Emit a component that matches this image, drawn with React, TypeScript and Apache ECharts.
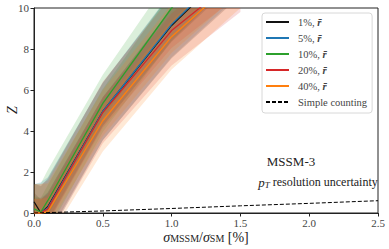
import React, { useEffect, useRef } from "react";
import * as echarts from "echarts";

const xs = [0, 0.05, 0.1, 0.5, 1.0, 1.5];
const z1 = [0.55, 0.0, 0.3, 4.95, 9.15, 12.4];
const z5 = [0.0, 0.0, 0.25, 4.95, 9.2, 12.5];
const z10 = [0.2, 0.05, 0.6, 5.35, 10.0, 13.5];
const z20 = [0.0, 0.0, 0.2, 4.9, 8.9, 11.6];
const z40 = [0.0, 0.0, 0.05, 4.5, 8.6, 11.6];

const s1 = [0.45, 0.65, 0.7, 0.7, 0.8, 0.9];
const s5 = [0.7, 0.75, 0.75, 0.7, 0.8, 0.9];
const s10 = [0.6, 0.7, 0.75, 0.7, 0.8, 0.9];
const s20 = [0.7, 0.7, 0.7, 0.75, 0.85, 0.9];
const s40 = [0.7, 0.7, 0.7, 0.75, 0.8, 0.8];

const countX = [0, 0.5, 1.0, 1.5, 2.0, 2.5];
const countZ = [0, 0.1, 0.22, 0.35, 0.47, 0.6];

const seriesNames = ["1%", "5%", "10%", "20%", "40%"];
const colors = ["#111111", "#1f77b4", "#2ca02c", "#d62728", "#ff7f0e"];
const bandColors = ["0,0,0", "31,119,180", "44,160,44", "214,39,40", "255,127,14"];
const means = [z1, z5, z10, z20, z40];
const sigmas = [s1, s5, s10, s20, s40];

const xTicks = [0, 0.5, 1.0, 1.5, 2.0, 2.5];
const yTicks = [0, 2, 4, 6, 8, 10];

const SERIF = "'Liberation Serif', 'DejaVu Serif', serif";

function clipPoly(pts: number[][], x0: number, y0: number, x1: number, y1: number) {
  const edges: [(p: number[]) => boolean, (a: number[], b: number[]) => number[]][] = [
    [(p) => p[0] >= x0, (a, b) => { const t = (x0 - a[0]) / (b[0] - a[0]); return [x0, a[1] + t * (b[1] - a[1])]; }],
    [(p) => p[0] <= x1, (a, b) => { const t = (x1 - a[0]) / (b[0] - a[0]); return [x1, a[1] + t * (b[1] - a[1])]; }],
    [(p) => p[1] >= y0, (a, b) => { const t = (y0 - a[1]) / (b[1] - a[1]); return [a[0] + t * (b[0] - a[0]), y0]; }],
    [(p) => p[1] <= y1, (a, b) => { const t = (y1 - a[1]) / (b[1] - a[1]); return [a[0] + t * (b[0] - a[0]), y1]; }],
  ];
  let out = pts;
  for (const [inside, inter] of edges) {
    const input = out;
    out = [];
    for (let i = 0; i < input.length; i++) {
      const cur = input[i];
      const prev = input[(i + input.length - 1) % input.length];
      const ci = inside(cur), pi = inside(prev);
      if (ci) {
        if (!pi) out.push(inter(prev, cur));
        out.push(cur);
      } else if (pi) {
        out.push(inter(prev, cur));
      }
    }
    if (!out.length) break;
  }
  return out;
}

export default function App() {
  const ref = useRef<HTMLDivElement>(null);
  useEffect(() => {
    if (!ref.current) return;
    const chart = echarts.init(ref.current, null, { renderer: "svg" });
    const series: any[] = [];
    means.forEach((m, i) => {
      [2, 1].forEach((k) => {
        series.push({
          type: "custom",
          name: "_band" + i + k,
          silent: true,
          z: 1,
          data: [[0, 0]],
          renderItem: (params: any, api: any) => {
            const cs = params.coordSys;
            const upper = xs.map((x, j) => api.coord([x, m[j] + k * sigmas[i][j]]));
            const lower = xs.map((x, j) => api.coord([x, m[j] - k * sigmas[i][j]])).reverse();
            const pts = clipPoly(upper.concat(lower), cs.x, cs.y, cs.x + cs.width, cs.y + cs.height);
            return {
              type: "polygon",
              shape: { points: pts },
              style: { fill: "rgba(" + bandColors[i] + ",0.17)" },
            };
          },
        });
      });
      series.push({
        type: "line",
        name: seriesNames[i] + ", r",
        data: xs.map((x, j) => [x, m[j]]),
        showSymbol: false,
        symbol: "circle",
        lineStyle: { color: colors[i], width: 1.3 },
        itemStyle: { color: colors[i] },
        z: 3,
      });
    });
    series.push({
      type: "line",
      name: "Simple counting",
      data: countX.map((x, j) => [x, countZ[j]]),
      showSymbol: false,
      symbol: "circle",
      lineStyle: { color: "#000", width: 1, type: [4, 2] },
      itemStyle: { color: "#000" },
      z: 4,
    });

    const legendNames = seriesNames.map((n) => n + ", r").concat(["Simple counting"]);

    chart.setOption({
      animation: false,
      grid: {
        left: 34,
        right: 11,
        top: 8,
        bottom: 36,
        show: true,
        borderColor: "#222",
        borderWidth: 1,
        backgroundColor: "transparent",
      },
      xAxis: {
        type: "value",
        min: 0,
        max: 2.5,
        interval: 0.5,
        splitLine: { show: false },
        axisLine: { show: true, lineStyle: { color: "#222" } },
        axisTick: { show: true, length: 3.5, lineStyle: { color: "#222" } },
        axisLabel: {
          color: "#444",
          fontFamily: SERIF,
          fontSize: 11,
          margin: 4,
          formatter: (v: number) => (xTicks.includes(v) ? v.toFixed(1) : ""),
        },
      },
      yAxis: {
        type: "value",
        min: 0,
        max: 10,
        interval: 2,
        splitLine: { show: false },
        axisLine: { show: true, lineStyle: { color: "#222" } },
        axisTick: { show: true, length: 3.5, lineStyle: { color: "#222" } },
        axisLabel: {
          color: "#444",
          fontFamily: SERIF,
          fontSize: 11,
          margin: 5,
          formatter: (v: number) => (yTicks.includes(v) ? String(v) : ""),
        },
      },
      legend: {
        data: legendNames,
        orient: "vertical",
        left: 262,
        top: 13,
        padding: [3, 5, 5, 3],
        itemWidth: 23,
        itemHeight: 12,
        itemGap: 4,
        borderColor: "#d8d8d8",
        borderWidth: 1,
        borderRadius: 3,
        backgroundColor: "rgba(255,255,255,0.85)",
        itemStyle: { opacity: 0 },
        formatter: (n: string) =>
          n === "Simple counting" ? "{a|Simple counting}" : "{a|" + n.slice(0, -1) + "}{b|r\u0304}",
        textStyle: {
          padding: [0, 0, 0, 4],
          lineHeight: 12,
          rich: {
            a: { fontFamily: SERIF, fontSize: 10.5, color: "#444", lineHeight: 12 },
            b: {
              fontFamily: SERIF,
              fontSize: 10.5,
              color: "#444",
              fontWeight: "bold",
              fontStyle: "italic",
              lineHeight: 12,
            },
          },
        },
      },
      graphic: [
        {
          type: "text",
          x: 206,
          y: 237,
          style: {
            text: "{i|σ}{s|MSSM}{n|/}{i|σ}{s|SM}{n| [%]}",
            align: "center",
            verticalAlign: "middle",
            fill: "#222",
            rich: {
              i: { fontFamily: SERIF, fontSize: 14, fontStyle: "italic", lineHeight: 13, fill: "#222" },
              n: { fontFamily: SERIF, fontSize: 14, lineHeight: 13, fill: "#222" },
              s: { fontFamily: SERIF, fontSize: 10, lineHeight: 13, verticalAlign: "bottom", fill: "#222" },
            },
          },
        },
        {
          type: "text",
          x: 12,
          y: 110,
          rotation: Math.PI / 2,
          style: {
            text: "Z",
            fontFamily: SERIF,
            fontSize: 14,
            fontStyle: "italic",
            fill: "#222",
            align: "center",
            verticalAlign: "middle",
          },
        },
        {
          type: "text",
          x: 291,
          y: 161,
          style: {
            text: "MSSM-3",
            fontFamily: SERIF,
            fontSize: 13,
            fill: "#222",
            align: "center",
            verticalAlign: "middle",
          },
        },
        {
          type: "text",
          x: 318,
          y: 182,
          style: {
            text: "{i|p}{s|T}{n| resolution uncertainty}",
            align: "center",
            verticalAlign: "middle",
            fill: "#222",
            rich: {
              i: { fontFamily: SERIF, fontSize: 13, fontStyle: "italic", lineHeight: 14, fill: "#222" },
              n: { fontFamily: SERIF, fontSize: 12, lineHeight: 14, fill: "#222" },
              s: { fontFamily: SERIF, fontSize: 9, fontStyle: "italic", lineHeight: 14, verticalAlign: "bottom", fill: "#222" },
            },
          },
        },
      ],
      series,
    });
    return () => chart.dispose();
  }, []);
  return <div ref={ref} style={{ width: 389, height: 249, position: "absolute", left: 0, top: 0 }} />;
}
